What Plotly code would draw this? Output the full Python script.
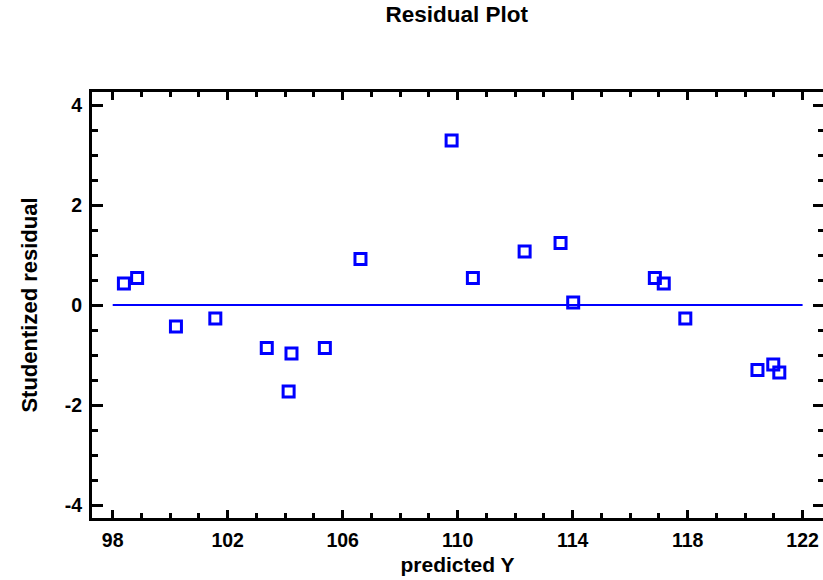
import plotly.graph_objects as go

predicted_y = [98.39, 98.85, 100.20, 101.57, 103.36, 104.22, 104.12, 105.38, 106.62,
               109.79, 110.53, 112.33, 113.58, 114.02, 116.86, 117.17, 117.92,
               120.43, 120.98, 121.19]
studentized_residual = [0.43, 0.54, -0.43, -0.27, -0.86, -0.97, -1.73, -0.86, 0.92,
                        3.29, 0.54, 1.07, 1.24, 0.05, 0.54, 0.43, -0.27,
                        -1.30, -1.19, -1.35]
zero_line_x = [98, 122]
zero_line_y = [0, 0]

x_tick_vals = [98, 102, 106, 110, 114, 118, 122]
x_tick_text = ["98", "102", "106", "110", "114", "118", "122"]
y_tick_vals = [-4, -2, 0, 2, 4]
y_tick_text = ["-4", "-2", "0", "2", "4"]

FONT = "Arial, Liberation Sans, sans-serif"
BLUE = "#0000FF"
X_RANGE = [97.28, 122.71]
Y_RANGE = [-4.26, 4.26]

fig = go.Figure()
fig.add_trace(go.Scatter(x=zero_line_x, y=zero_line_y, mode="lines",
                         line=dict(color=BLUE, width=2.2), hoverinfo="skip",
                         showlegend=False))
fig.add_trace(go.Scatter(x=predicted_y, y=studentized_residual, mode="markers",
                         marker=dict(symbol="square-open", size=11,
                                     color=BLUE, line=dict(color=BLUE, width=3)),
                         showlegend=False))
# invisible helper traces so that the mirrored tick axes are drawn
fig.add_trace(go.Scatter(x=zero_line_x, y=zero_line_y, mode="lines", xaxis="x2",
                         yaxis="y2", line=dict(width=0), opacity=0,
                         hoverinfo="skip", showlegend=False))
fig.add_trace(go.Scatter(x=zero_line_x, y=zero_line_y, mode="lines", xaxis="x",
                         yaxis="y3", line=dict(width=0), opacity=0,
                         hoverinfo="skip", showlegend=False))

fig.update_layout(
    width=823, height=580,
    margin=dict(l=92, r=0, t=92, b=62, autoexpand=False),
    paper_bgcolor="white", plot_bgcolor="white",
    font=dict(family=FONT, color="black", size=20),
    title=dict(text="<b>Residual Plot</b>", x=0.555, xanchor="center",
               y=1 - 14 / 580, yanchor="middle", yref="container",
               font=dict(size=22.5, family=FONT, color="black")),
    xaxis=dict(range=X_RANGE, tickvals=x_tick_vals, ticktext=x_tick_text,
               automargin=False,
               ticks="inside", ticklen=8, tickwidth=3, tickcolor="black",
               showline=True, linewidth=3, linecolor="black", mirror="ticks",
               showgrid=False, zeroline=False,
               minor=dict(dtick=1, tick0=98, ticks="inside", ticklen=5,
                          tickwidth=3, tickcolor="black", showgrid=False),
               tickfont=dict(size=19.5, family=FONT, weight="bold"),
               ticklabelstandoff=3,
               title=dict(text="<b>predicted Y</b>", standoff=7,
                          font=dict(size=21, family=FONT))),
    xaxis2=dict(range=X_RANGE, overlaying="x", side="top", automargin=False,
                tick0=98, dtick=1, ticks="inside", ticklen=5, tickwidth=3,
                tickcolor="black", showline=False, showgrid=False,
                zeroline=False, showticklabels=False),
    yaxis=dict(range=Y_RANGE, tickvals=y_tick_vals, ticktext=y_tick_text,
               automargin=False,
               ticks="inside", ticklen=11, tickwidth=3, tickcolor="black",
               showline=True, linewidth=3, linecolor="black",
               showgrid=False, zeroline=False,
               minor=dict(dtick=0.5, tick0=0, ticks="inside", ticklen=6,
                          tickwidth=3, tickcolor="black", showgrid=False),
               tickfont=dict(size=19.5, family=FONT, weight="bold"),
               ticklabelstandoff=3,
               title=dict(text="<b>Studentized residual</b>", standoff=22,
                          font=dict(size=22, family=FONT))),
    yaxis2=dict(range=Y_RANGE, overlaying="y", side="right", automargin=False,
                tick0=0, dtick=0.5, ticks="inside", ticklen=5, tickwidth=3,
                tickcolor="black", showline=False, showgrid=False,
                zeroline=False, showticklabels=False),
    yaxis3=dict(range=Y_RANGE, overlaying="y", side="right", automargin=False,
                tickvals=y_tick_vals, ticks="inside", ticklen=10, tickwidth=3,
                tickcolor="black", showline=False, showgrid=False,
                zeroline=False, showticklabels=False),
)

fig.write_html("out.html",
               config={"displayModeBar": False},
               post_script="document.body.style.margin='0px';"
                           "document.body.style.overflow='hidden';")
